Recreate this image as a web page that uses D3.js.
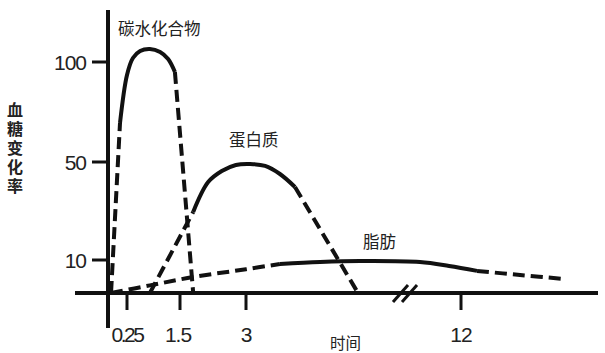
<!DOCTYPE html>
<html>
<head>
<meta charset="utf-8">
<script src="https://cdn.jsdelivr.net/npm/d3@7"></script>
<style>
  body { margin: 0; background: #fff; }
  svg { display: block; }
</style>
</head>
<body>
<script>
// time in hours, value = blood sugar change
const xTicks = [0.25, 1.5, 3, 12];
const xTickLabels = ["0.25", "1.5", "3", "12"];
const yTicks = [10, 50, 100];

const seriesNames = ["碳水化合物", "蛋白质", "脂肪"];

const carbRise = [[0.04, 0], [0.158, 69.5]];
const carbSolid = [[0.158, 69.5], [0.25, 93.5], [0.39, 102], [0.56, 105.5], [0.79, 106.5], [1.03, 105], [1.22, 101.5], [1.38, 95]];
const carbFall = [[1.38, 95], [1.8, 0]];

const protRise = [[0.79, 0], [1.8, 29.6]];
const protSolid = [[1.8, 29.6], [2.14, 41.8], [2.45, 46.3], [2.77, 48.8], [3.17, 49.2], [3.8, 48.4], [4.42, 45.1], [5.05, 39.8]];
const protFall = [[5.05, 39.8], [7.69, 0]];

const fatRise = [[0.04, 0], [0.79, 2.3], [1.8, 4.85], [3.0, 7.2], [4.42, 8.8]];
const fatSolid = [[4.42, 8.8], [6.1, 9.4], [7.77, 9.7], [10.28, 9.4], [11.5, 8.2], [12.67, 6.7]];
const fatFall = [[12.67, 6.7], [14.47, 5.45], [16.4, 4.2]];

const width = 605, height = 353;

const svg = d3.select("body").append("svg")
  .attr("width", width)
  .attr("height", height);

svg.append("rect").attr("width", width).attr("height", height).attr("fill", "#fff");

// hand drawn schematic, so both axes are piecewise
const x = d3.scaleLinear()
  .domain([0, 0.25, 1.5, 3, 12])
  .range([108, 127, 180, 246, 461]);

const y = d3.scaleLinear()
  .domain([0, 10, 50, 100])
  .range([293, 260, 162, 62]);

const ink = "#111";

// axes
svg.append("line")
  .attr("x1", 108).attr("x2", 108)
  .attr("y1", 10).attr("y2", 328)
  .attr("stroke", ink).attr("stroke-width", 4);

svg.append("line")
  .attr("x1", 75).attr("x2", 598)
  .attr("y1", y(0)).attr("y2", y(0))
  .attr("stroke", ink).attr("stroke-width", 4);

svg.selectAll(".ytick")
  .data(yTicks)
  .join("line")
  .attr("x1", 92).attr("x2", 108)
  .attr("y1", d => y(d)).attr("y2", d => y(d))
  .attr("stroke", ink).attr("stroke-width", 3);

svg.selectAll(".ylab")
  .data(yTicks)
  .join("text")
  .attr("x", 86)
  .attr("y", d => y(d) + 8)
  .attr("text-anchor", "end")
  .attr("font-family", "Liberation Sans, Arial, sans-serif")
  .attr("font-size", 21)
  .attr("letter-spacing", -1)
  .attr("fill", "#222")
  .text(d => d);

svg.selectAll(".xtick")
  .data(xTicks)
  .join("line")
  .attr("x1", d => x(d)).attr("x2", d => x(d))
  .attr("y1", y(0)).attr("y2", 310)
  .attr("stroke", ink).attr("stroke-width", 3);

svg.selectAll(".xlab")
  .data(xTicks)
  .join("text")
  .attr("x", (d, i) => x(d) + (i == 1 ? -2 : 0))
  .attr("y", 342)
  .attr("text-anchor", "middle")
  .attr("font-family", "Liberation Sans, Arial, sans-serif")
  .attr("font-size", 21)
  .attr("letter-spacing", (d, i) => i == 0 ? -2.5 : -1)
  .attr("fill", "#222")
  .text((d, i) => xTickLabels[i]);

// axis break
[0, 9].forEach(off => {
  svg.append("line")
    .attr("x1", 393 + off).attr("y1", 302)
    .attr("x2", 408 + off).attr("y2", 285)
    .attr("stroke", ink).attr("stroke-width", 3);
});

// curves
const line = d3.line()
  .x(d => x(d[0]))
  .y(d => y(d[1]))
  .curve(d3.curveCatmullRom.alpha(0.5));

const segs = [
  [carbRise, true], [carbSolid, false], [carbFall, true],
  [protRise, true], [protSolid, false], [protFall, true],
  [fatRise, true], [fatSolid, false], [fatFall, true]
];

svg.append("g")
  .selectAll("path")
  .data(segs)
  .join("path")
  .attr("d", d => line(d[0]))
  .attr("fill", "none")
  .attr("stroke", ink)
  .attr("stroke-width", 4)
  .attr("stroke-linecap", "butt")
  .attr("stroke-dasharray", d => d[1] ? "12,6" : null);

// series labels
const cjk = "'Noto Sans CJK SC', sans-serif";
const labelPos = [[118, 35], [229, 146], [363, 248]];

svg.selectAll(".slab")
  .data(seriesNames)
  .join("text")
  .attr("x", (d, i) => labelPos[i][0])
  .attr("y", (d, i) => labelPos[i][1])
  .attr("font-family", cjk)
  .attr("font-size", 16.5)
  .attr("fill", "#222")
  .text(d => d);

// axis titles
svg.append("text")
  .attr("x", 330).attr("y", 349)
  .attr("font-family", cjk)
  .attr("font-size", 15.5)
  .attr("fill", "#222")
  .text("时间");

svg.append("text")
  .attr("x", 15)
  .attr("y", 102)
  .attr("font-family", cjk)
  .attr("font-size", 16)
  .attr("font-weight", 700)
  .attr("fill", "#222")
  .style("writing-mode", "vertical-rl")
  .attr("letter-spacing", 3)
  .text("血糖变化率");
</script>
</body>
</html>
